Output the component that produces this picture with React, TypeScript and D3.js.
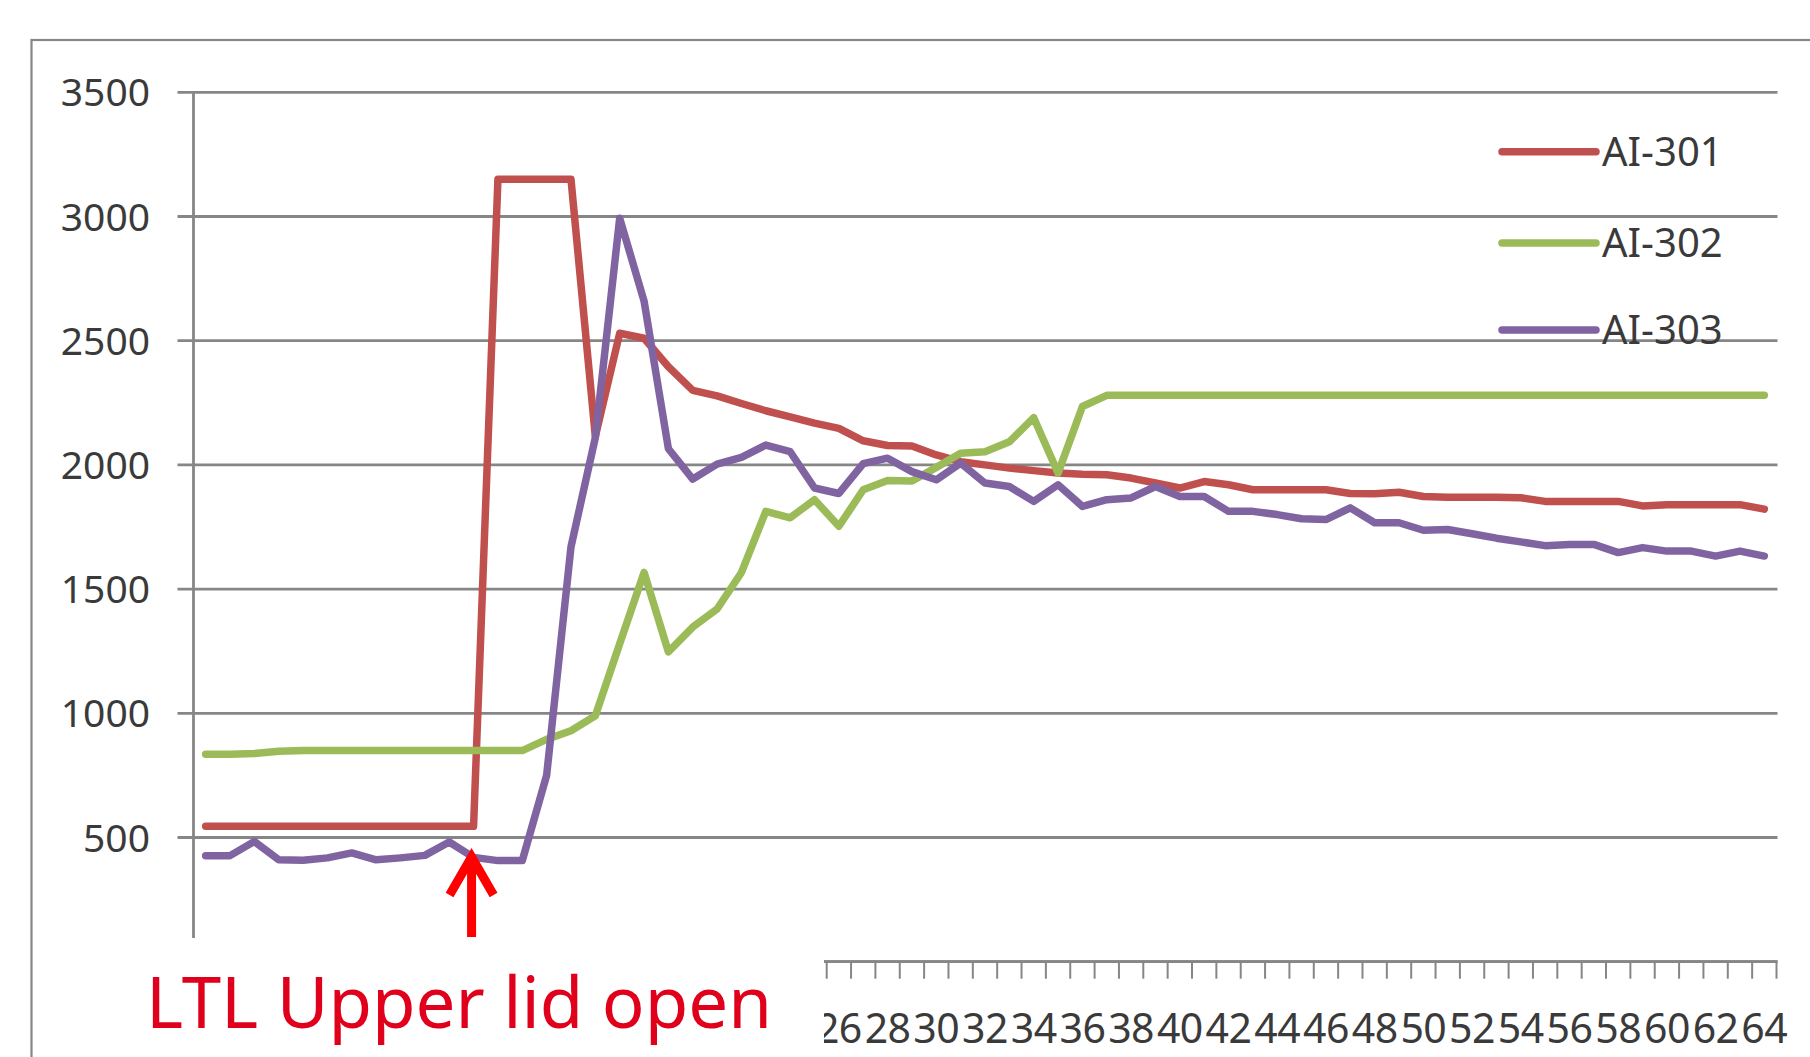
import React from 'react';
import * as d3 from 'd3';

const categories: number[] = [
  0, 1, 2, 3, 4, 5, 6, 7, 8, 9, 10, 11, 12, 13, 14, 15, 16, 17, 18, 19, 20,
  21, 22, 23, 24, 25, 26, 27, 28, 29, 30, 31, 32, 33, 34, 35, 36, 37, 38, 39, 40,
  41, 42, 43, 44, 45, 46, 47, 48, 49, 50, 51, 52, 53, 54, 55, 56, 57, 58, 59, 60,
  61, 62, 63, 64,
];

const ai301: number[] = [
  545, 545, 545, 545, 545, 545, 545, 545, 545, 545, 545, 545,
  3150, 3150, 3150, 3150, 2115, 2530, 2510, 2395, 2300, 2278, 2247, 2218, 2193,
  2168, 2147, 2097, 2078, 2076, 2040, 2013, 2000, 1987, 1977, 1967, 1962, 1960,
  1947, 1927, 1907, 1933, 1920, 1900, 1900, 1900, 1900, 1885, 1884, 1890, 1873,
  1870, 1870, 1870, 1868, 1853, 1853, 1853, 1853, 1835, 1840, 1840, 1840, 1840, 1822,
];

const ai302: number[] = [
  835, 835, 838, 847, 850, 850, 850, 850, 850, 850, 850, 850, 850, 850,
  895, 930, 990, 1280, 1567, 1247, 1347, 1420, 1567, 1813, 1787, 1860, 1753,
  1900, 1937, 1935, 1990, 2047, 2053, 2093, 2190, 1967, 2235,
  2280, 2280, 2280, 2280, 2280, 2280, 2280, 2280, 2280, 2280, 2280, 2280, 2280,
  2280, 2280, 2280, 2280, 2280, 2280, 2280, 2280, 2280, 2280, 2280, 2280, 2280, 2280, 2280,
];

const ai303: number[] = [
  427, 427, 484, 410, 408, 418, 438, 410, 418, 428, 482, 420, 407, 407,
  750, 1670, 2110, 2993, 2660, 2065, 1943, 2003, 2030, 2080, 2053, 1907, 1885,
  2005, 2027, 1973, 1940, 2007, 1927, 1913, 1853, 1920, 1833, 1860, 1867, 1913,
  1873, 1873, 1813, 1813, 1800, 1783, 1780, 1827, 1767, 1767, 1737, 1740, 1723,
  1705, 1690, 1675, 1680, 1680, 1647, 1667, 1653, 1653, 1633, 1653, 1633,
];

const seriesNames: string[] = ['AI-301', 'AI-302', 'AI-303'];
const seriesColors: string[] = ['#C0504D', '#9BBB59', '#8064A2'];
const yTicks: number[] = [0, 500, 1000, 1500, 2000, 2500, 3000, 3500];
const annotationText = 'LTL Upper lid open';
const annotationCategory = 11;

export default function App() {
  const W = 1810;
  const H = 1057;
  const left = 193.5;
  const right = 1776.5;
  const top = 92.3;
  const bottom = 961.7;

  const boxX = 40;
  const boxY = 938;
  const boxR = 824;

  const x = d3.scalePoint<number>().domain(categories).range([left, right]).padding(0.5);
  const y = d3.scaleLinear().domain([0, 3500]).range([bottom, top]);
  const step = x.step();

  const series = [ai301, ai302, ai303];
  const line = d3
    .line<number>()
    .x((_, i) => x(categories[i]) as number)
    .y((d) => y(d));

  const boundaries = categories.map((c) => (x(c) as number) - step / 2);
  boundaries.push((x(categories[categories.length - 1]) as number) + step / 2);

  const grid = '#868686';
  const textCol = '#3a3a3a';
  const font = '"Noto Sans", "DejaVu Sans", sans-serif';

  const legendY = [151.7, 243, 330];

  const ax = x(annotationCategory) as number;

  const visibleXLabels = categories.filter((c) => c % 2 === 0 && (x(c) as number) + step > boxR);
  const visibleYLabels = yTicks.filter((t) => y(t) < boxY);

  return (
    <svg
      width={W}
      height={H}
      style={{ position: 'absolute', left: 0, top: 0, background: '#fff' }}
      fontFamily={font}
    >
      <rect x={0} y={0} width={W} height={H} fill="#fff" />
      <rect x={31.5} y={40} width={W + 20} height={H + 20} fill="none" stroke="#868686" strokeWidth={2.2} />

      {yTicks.map((t) => (
        <line key={'g' + t} x1={left - 16} x2={right + 1} y1={y(t)} y2={y(t)} stroke={grid} strokeWidth={2.8} />
      ))}
      <line x1={left} x2={left} y1={top} y2={bottom} stroke={grid} strokeWidth={2.8} />
      <line x1={left} x2={right + 1} y1={bottom} y2={bottom} stroke={grid} strokeWidth={2.8} />
      {boundaries.map((b, i) => (
        <line key={'t' + i} x1={b} x2={b} y1={bottom} y2={bottom + 17} stroke={grid} strokeWidth={2} />
      ))}

      {visibleYLabels.map((t) => (
        <text key={'yl' + t} x={150} y={y(t)} dy="0.36em" textAnchor="end" fontSize={39} fill={textCol}>
          {t}
        </text>
      ))}

      {visibleXLabels.map((c) => (
        <text
          key={'xl' + c}
          x={x(c) as number}
          y={1043}
          textAnchor="middle"
          fontSize={41}
          letterSpacing={-0.5}
          fill={textCol}
        >
          {c}
        </text>
      ))}

      {series.map((s, i) => (
        <path
          key={'s' + i}
          d={line(s) as string}
          fill="none"
          stroke={seriesColors[i]}
          strokeWidth={7.5}
          strokeLinejoin="round"
          strokeLinecap="round"
        />
      ))}

      {seriesNames.map((n, i) => (
        <g key={'lg' + i}>
          <line
            x1={1502}
            x2={1596}
            y1={legendY[i]}
            y2={legendY[i]}
            stroke={seriesColors[i]}
            strokeWidth={7.5}
            strokeLinecap="round"
          />
          <text x={1602} y={legendY[i]} dy="0.36em" fontSize={40} fill={textCol}>
            {n}
          </text>
        </g>
      ))}

      <rect x={boxX} y={boxY} width={boxR - boxX} height={H - boxY + 10} fill="#fff" />
      <text x={146} y={1028} fontSize={72} fill="#e0001b" textLength={626} lengthAdjust="spacingAndGlyphs">
        {annotationText}
      </text>

      <g stroke="#ff0000" strokeWidth={9} fill="none" strokeLinecap="butt" strokeLinejoin="miter">
        <line x1={ax - 2} x2={ax - 2} y1={858} y2={937} />
        <polyline points={`${ax - 24},${895} ${ax - 2},${857} ${ax + 20},${895}`} />
      </g>
    </svg>
  );
}
